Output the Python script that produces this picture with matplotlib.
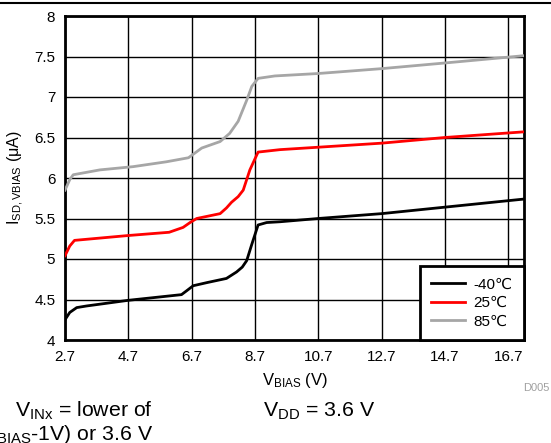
import matplotlib
matplotlib.use("Agg")
import matplotlib.pyplot as plt
from matplotlib.lines import Line2D

plt.rcParams["font.family"] = ["Liberation Sans", "DejaVu Sans"]
plt.rcParams["mathtext.fontset"] = "custom"
plt.rcParams["mathtext.rm"] = "Liberation Sans"
plt.rcParams["mathtext.it"] = "Liberation Sans"

# values (V_BIAS in V, current in uA)
v_m40 = [2.7, 2.85, 3.07, 3.38, 4.7, 6.38, 6.55, 6.75, 7.2, 7.8, 8.12, 8.3, 8.44,
         8.6, 8.8, 9.07, 9.5, 10.7, 12.7, 14.7, 17.2]
i_m40 = [4.25, 4.34, 4.40, 4.42, 4.49, 4.56, 4.61, 4.67, 4.71, 4.76, 4.84, 4.90, 4.98,
         5.18, 5.42, 5.45, 5.46, 5.50, 5.56, 5.64, 5.74]

v_25 = [2.7, 2.85, 3.0, 4.7, 5.99, 6.43, 6.65, 6.86, 7.6, 7.8, 7.96, 8.17, 8.33,
        8.54, 8.8, 9.49, 10.7, 12.7, 14.7, 17.2]
i_25 = [5.04, 5.16, 5.23, 5.29, 5.33, 5.39, 5.45, 5.50, 5.56, 5.63, 5.70, 5.77, 5.85,
        6.10, 6.32, 6.35, 6.38, 6.43, 6.50, 6.57]

v_85 = [2.7, 2.85, 2.96, 3.8, 4.85, 5.9, 6.6, 7.02, 7.6, 7.9, 8.17, 8.44, 8.6,
        8.8, 9.33, 10.7, 12.7, 14.7, 17.2]
i_85 = [5.85, 5.98, 6.04, 6.10, 6.14, 6.20, 6.25, 6.37, 6.45, 6.55, 6.70, 6.96, 7.13,
        7.23, 7.26, 7.29, 7.35, 7.42, 7.51]

series_labels = ["-40\u2103", "25\u2103", "85\u2103"]
series_colors = ["black", "red", "#a6a6a6"]
x_ticks = [2.7, 4.7, 6.7, 8.7, 10.7, 12.7, 14.7, 16.7]
y_ticks = [4, 4.5, 5, 5.5, 6, 6.5, 7, 7.5, 8]

fig = plt.figure(figsize=(5.51, 4.43), dpi=100)
ax = fig.add_axes([65 / 551, 1 - 340 / 443, (524 - 65) / 551, (340 - 16) / 443])

for v, i, lab, col in zip([v_m40, v_25, v_85], [i_m40, i_25, i_85],
                          series_labels, series_colors):
    ax.plot(v, i, color=col, lw=2, label=lab, zorder=3)

ax.set_xlim(2.7, 17.2)
ax.set_ylim(4, 8)
ax.set_xticks(x_ticks)
ax.set_xticklabels([f"{t:.1f}" for t in x_ticks])
ax.set_yticks(y_ticks)
ax.set_yticklabels([f"{t:g}" for t in y_ticks])
ax.tick_params(length=0, labelsize=11, pad=7, colors="black")
ax.grid(True, color="black", lw=1)
ax.set_axisbelow(True)
for sp in ax.spines.values():
    sp.set_linewidth(2)
    sp.set_color("black")

ax.set_ylabel(r"$\mathregular{I_{SD,VBIAS}}$ ($\mathregular{\mu}$A)", fontsize=11.5, labelpad=6)
fig.text(294.5 / 551, 1 - 381 / 443, r"$\mathregular{V_{BIAS}}$ (V)", fontsize=12,
         ha="center", va="center")

leg = ax.legend(loc="lower right", bbox_to_anchor=(1.0, 0.0), borderaxespad=0,
                fancybox=False, edgecolor="black", framealpha=1, fontsize=11,
                handlelength=2.2, handletextpad=0.55, labelspacing=0.3,
                borderpad=0.75)
leg.get_frame().set_linewidth(2)

fig.text(1 - 1 / 551, 1 - 388 / 443, "D005", fontsize=8, color="#a0a0a0",
         ha="right", va="center")
fig.text(153 / 551, 1 - 411 / 443, r"$\mathregular{V_{INx}}$ = lower of",
         fontsize=15.3, ha="right", va="center")
fig.text(153 / 551, 1 - 434 / 443, r"($\mathregular{V_{BIAS}}$-1V) or 3.6 V",
         fontsize=15.3, ha="right", va="center")
fig.text(263 / 551, 1 - 411 / 443, r"$\mathregular{V_{DD}}$ = 3.6 V",
         fontsize=15.3, ha="left", va="center")

fig.add_artist(Line2D([0, 1], [1 - 2.7 / 443, 1 - 2.7 / 443], color="black", lw=1.5,
                      transform=fig.transFigure))

fig.savefig("out.png", dpi=100)
